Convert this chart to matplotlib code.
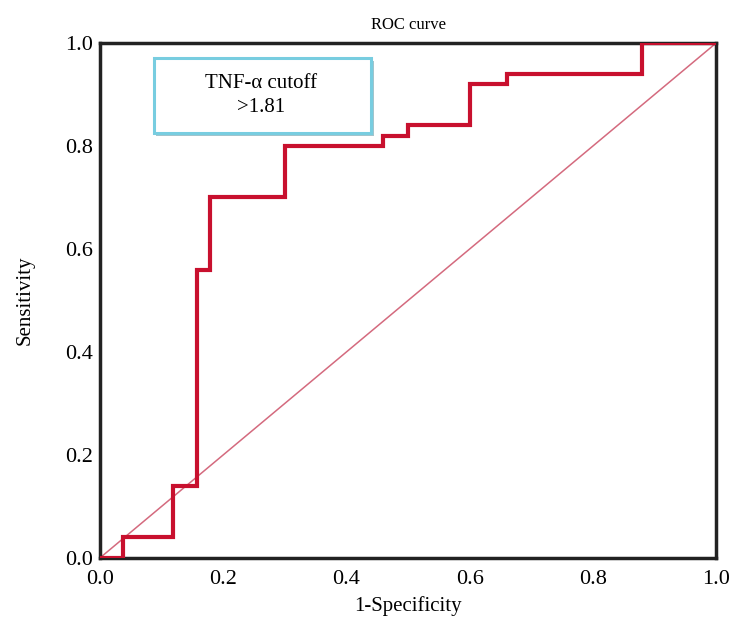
import matplotlib
matplotlib.use("Agg")
import matplotlib.pyplot as plt
from matplotlib.patches import FancyBboxPatch
import matplotlib.patheffects as pe

# ROC step curve vertices (1-Specificity, Sensitivity)
fpr = [0.0, 0.037, 0.037, 0.119, 0.119, 0.158, 0.158, 0.179, 0.179, 0.30, 0.30,
       0.46, 0.46, 0.50, 0.50, 0.60, 0.60, 0.66, 0.66, 0.88, 0.88, 1.0]
tpr = [0.0, 0.0, 0.04, 0.04, 0.14, 0.14, 0.56, 0.56, 0.70, 0.70, 0.80,
       0.80, 0.82, 0.82, 0.84, 0.84, 0.92, 0.92, 0.94, 0.94, 1.0, 1.0]
ref_line = [0.0, 1.0]
ticks = [0.0, 0.2, 0.4, 0.6, 0.8, 1.0]
tick_labels = ["0.0", "0.2", "0.4", "0.6", "0.8", "1.0"]

plt.rcParams['font.family'] = ['Liberation Serif', 'DejaVu Serif']

fig = plt.figure(figsize=(7.30, 6.24), dpi=100)
ax = fig.add_axes([0.137, 0.106, 0.844, 0.825])

ax.plot(ref_line, ref_line, color="#d46a7e", lw=1.1, zorder=2)
ax.plot(fpr, tpr, color="#c8102e", lw=3.0, solid_joinstyle="miter", zorder=3)

ax.set_xlim(0, 1)
ax.set_ylim(0, 1)
ax.set_xticks(ticks)
ax.set_xticklabels(tick_labels)
ax.set_yticks(ticks)
ax.set_yticklabels(tick_labels)
ax.tick_params(length=0, labelsize=16, colors="black")
ax.tick_params(axis="x", pad=9)
ax.tick_params(axis="y", pad=5)
for s in ax.spines.values():
    s.set_linewidth(2.5)
    s.set_color("#222222")

ax.set_title("ROC curve", fontsize=12, pad=10)
ax.set_xlabel("1-Specificity", fontsize=15, labelpad=5)
ax.set_ylabel("Sensitivity", fontsize=15, labelpad=22)

# annotation box
box = FancyBboxPatch((0.087, 0.825), 0.353, 0.146, boxstyle="square,pad=0",
                     transform=ax.transAxes, facecolor="white",
                     edgecolor="#78cde0", lw=2.2, zorder=4,
                     path_effects=[pe.SimplePatchShadow(offset=(2, -2), shadow_rgbFace="#4a8a9a", alpha=0.5),
                                   pe.Normal()])
ax.add_patch(box)
ax.text(0.262, 0.898, "TNF-α cutoff\n>1.81", transform=ax.transAxes, ha="center", va="center",
        fontsize=15, linespacing=1.3, zorder=5)

fig.savefig("out.png", dpi=100)
